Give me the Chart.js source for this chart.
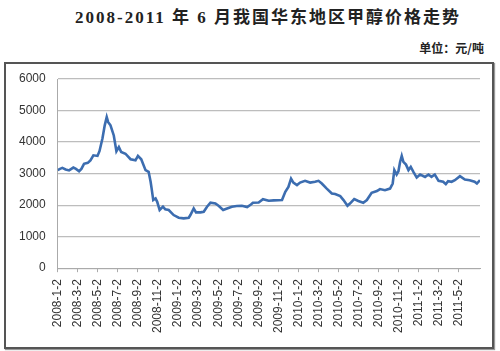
<!DOCTYPE html>
<html>
<head>
<meta charset="utf-8">
<script src="https://cdn.jsdelivr.net/npm/chart.js@4"></script>
<style>
  html, body { margin: 0; padding: 0; background: #fff; }
  #wrap { position: relative; width: 500px; height: 351px; overflow: hidden; }
  #title { position: absolute; left: 0; top: 3px; width: 536px; text-align: center;
    font: bold 17px "Liberation Serif", "Noto Sans CJK SC", serif; color: #222; letter-spacing: 2px; }
  #unit { position: absolute; right: 16px; top: 39px;
    font: bold 12px "Noto Sans CJK SC", sans-serif; color: #222; }
  #frame { position: absolute; left: 4px; top: 62px; width: 486px; height: 283px;
    border: 2px solid #555; box-shadow: 1px 1px 1px #999; }
  #chart { position: absolute; left: 0; top: 0; }
</style>
</head>
<body>
<div id="wrap">
  <div id="title">2008-2011 年 6 月我国华东地区甲醇价格走势</div>
  <div id="unit">单位：元/吨</div>
  <div id="frame"></div>
  <canvas id="chart" width="500" height="351"></canvas>
</div>
<script>
var dates = [
  "2008-1-2","2008-1-9","2008-1-16","2008-1-26","2008-2-6","2008-2-13","2008-2-19","2008-2-27",
  "2008-3-6","2008-3-13","2008-3-21","2008-4-2","2008-4-10","2008-4-19","2008-5-1","2008-5-7",
  "2008-5-16","2008-5-23","2008-5-29","2008-6-3","2008-6-10","2008-6-20","2008-6-28","2008-7-5",
  "2008-7-12","2008-7-25","2008-8-10","2008-8-25","2008-9-2","2008-9-12","2008-9-25","2008-10-4",
  "2008-10-10","2008-10-13","2008-10-18","2008-10-25","2008-10-30","2008-11-7","2008-11-17","2008-11-24",
  "2008-12-4","2008-12-19","2009-1-4","2009-1-19","2009-2-4","2009-2-9","2009-2-19","2009-2-26",
  "2009-3-9","2009-3-19","2009-3-29","2009-4-9","2009-4-24","2009-5-4","2009-5-17","2009-5-29",
  "2009-6-13","2009-6-28","2009-7-13","2009-7-29","2009-8-10","2009-8-16","2009-9-3","2009-9-16",
  "2009-10-3","2009-10-18","2009-11-13","2009-11-23","2009-12-2","2009-12-10","2009-12-17","2009-12-28",
  "2010-1-7","2010-1-22","2010-2-7","2010-2-22","2010-3-2","2010-3-12","2010-3-27","2010-4-12",
  "2010-4-22","2010-5-7","2010-5-17","2010-5-29","2010-6-6","2010-6-19","2010-7-1","2010-7-16",
  "2010-7-27","2010-8-11","2010-8-27","2010-9-6","2010-9-21","2010-10-6","2010-10-14","2010-10-19",
  "2010-10-26","2010-11-1","2010-11-6","2010-11-11","2010-11-16","2010-11-24","2010-12-1","2010-12-8",
  "2010-12-16","2010-12-26","2011-1-6","2011-1-21","2011-2-1","2011-2-10","2011-2-20","2011-3-1",
  "2011-3-15","2011-3-23","2011-3-30","2011-4-10","2011-4-20","2011-5-5","2011-5-20","2011-6-4",
  "2011-6-19","2011-6-26","2011-7-5"
];
var prices = [
  3110,3150,3180,3130,3100,3150,3190,3150,
  3075,3150,3310,3340,3420,3580,3560,3710,
  4110,4530,4790,4630,4530,4210,3710,3840,
  3685,3630,3455,3420,3560,3455,3110,3055,
  2740,2530,2160,2210,2105,1845,1950,1865,
  1845,1685,1600,1580,1600,1685,1895,1770,
  1770,1790,1950,2075,2050,1970,1845,1895,
  1950,1970,1980,1940,2020,2075,2085,2190,
  2140,2150,2160,2420,2580,2840,2715,2635,
  2715,2770,2715,2740,2770,2685,2525,2370,
  2350,2285,2160,1980,2050,2190,2130,2075,
  2160,2390,2445,2510,2475,2525,2685,3110,
  2970,3075,3370,3560,3370,3285,3110,3210,
  3055,2875,2970,2895,2970,2895,2970,2770,
  2740,2665,2760,2740,2790,2920,2810,2790,
  2740,2685,2790
];
var tickLabels = [
  "2008-1-2","2008-3-2","2008-5-2","2008-7-2","2008-9-2","2008-11-2",
  "2009-1-2","2009-3-2","2009-5-2","2009-7-2","2009-9-2","2009-11-2",
  "2010-1-2","2010-3-2","2010-5-2","2010-7-2","2010-9-2","2010-11-2",
  "2011-1-2","2011-3-2","2011-5-2"
];

// months since 2008-1-2
function monthPos(s) {
  var p = s.split('-').map(Number);
  return (p[0] - 2008) * 12 + (p[1] - 1) + (p[2] - 2) / 30.44;
}

var points = dates.map(function(d, i){ return {x: monthPos(d), y: prices[i]}; });

var ctx = document.getElementById("chart");
new Chart(ctx, {
  type: 'line',
  data: {
    datasets: [{
      data: points,
      borderColor: '#3c6db0',
      borderWidth: 2.6,
      pointRadius: 0,
      tension: 0,
      fill: false
    }]
  },
  options: {
    responsive: false,
    animation: false,
    plugins: { legend: { display: false }, tooltip: { enabled: false } },
    layout: { padding: { left: 7, right: 20, top: 79, bottom: 11 } },
    scales: {
      x: {
        type: 'linear',
        min: 0,
        max: monthPos("2011-7-5"),
        afterBuildTicks: function(axis) {
          axis.ticks = tickLabels.map(function(_, i){ return {value: i * 2}; });
        },
        grid: { drawOnChartArea: false, color: '#aaa', tickLength: 4, tickColor: '#aaa' },
        border: { color: '#aaa' },
        ticks: {
          autoSkip: false,
          minRotation: 90,
          maxRotation: 90,
          padding: 7,
          color: '#333',
          font: { family: 'Liberation Sans', size: 12 },
          callback: function(v){ return tickLabels[Math.round(v / 2)] || ''; }
        }
      },
      y: {
        min: 0,
        max: 6000,
        ticks: {
          stepSize: 1000, padding: 12, color: '#333',
          font: { family: 'Liberation Sans', size: 12 },
          callback: function(v){ return String(v); }
        },
        grid: { color: '#bdbdbd', lineWidth: 1.2, drawTicks: false },
        border: { color: '#aaa' }
      }
    }
  }
});
</script>
</body>
</html>
